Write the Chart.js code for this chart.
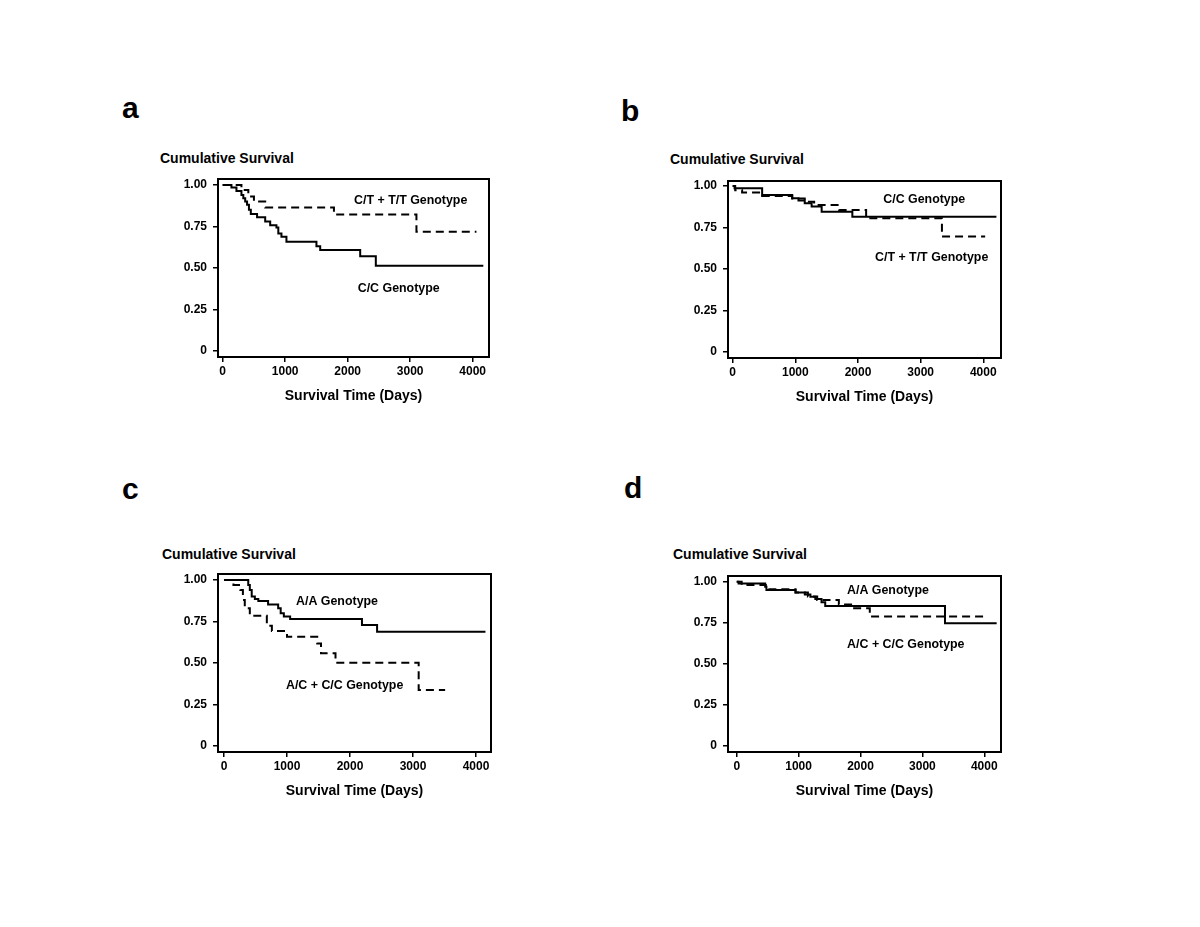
<!DOCTYPE html>
<html lang="en">
<head>
  <meta charset="UTF-8">
  <title>Cumulative Survival by Genotype</title>
  <script src="https://cdn.jsdelivr.net/npm/chart.js"></script>
  <style>
    * {
      margin: 0;
      padding: 0;
      box-sizing: border-box;
    }

    body {
      width: 1200px;
      height: 927px;
      background: #ffffff;
      position: relative;
      overflow: hidden;
      font-family: 'Liberation Sans', Arial, sans-serif;
      color: #000;
    }

    .panel-letter {
      position: absolute;
      font-size: 30px;
      font-weight: 700;
      line-height: 30px;
    }

    .y-title {
      position: absolute;
      font-size: 14px;
      font-weight: 700;
      line-height: 14px;
      white-space: nowrap;
    }

    .chart-box {
      position: absolute;
    }
  </style>
</head>
<body>
  <div class="panel-letter" style="left:122px; top:93px;">a</div>
  <div class="panel-letter" style="left:621px; top:96px;">b</div>
  <div class="panel-letter" style="left:122px; top:474px;">c</div>
  <div class="panel-letter" style="left:624px; top:473px;">d</div>

  <div class="y-title" style="left:160px; top:151px;">Cumulative Survival</div>
  <div class="y-title" style="left:670px; top:152px;">Cumulative Survival</div>
  <div class="y-title" style="left:162px; top:547px;">Cumulative Survival</div>
  <div class="y-title" style="left:673px; top:547px;">Cumulative Survival</div>

  <div class="chart-box" id="box-a"><canvas id="chart-a"></canvas></div>
  <div class="chart-box" id="box-b"><canvas id="chart-b"></canvas></div>
  <div class="chart-box" id="box-c"><canvas id="chart-c"></canvas></div>
  <div class="chart-box" id="box-d"><canvas id="chart-d"></canvas></div>

  <script>
    // shared axis ticks
    const xTicks = [0, 1000, 2000, 3000, 4000];
    const yTicks = [0, 0.25, 0.5, 0.75, 1];
    const yTickLabels = ['0', '0.25', '0.50', '0.75', '1.00'];

    // panel a: C/C (solid) vs C/T + T/T (dashed)
    const aCCDays = [0, 140, 220, 300, 330, 360, 390, 420, 450, 550, 680, 760, 860, 890, 940, 1020, 1500, 1560, 2200, 2450, 4170];
    const aCCSurv = [1, 0.984, 0.964, 0.94, 0.92, 0.90, 0.88, 0.85, 0.825, 0.805, 0.78, 0.757, 0.743, 0.707, 0.687, 0.657, 0.63, 0.607, 0.570, 0.512, 0.512];
    const aCTDays = [0, 300, 410, 500, 680, 1780, 3100, 4060];
    const aCTSurv = [1, 0.97, 0.93, 0.90, 0.864, 0.822, 0.717, 0.717];

    // panel b: C/C (solid) vs C/T + T/T (dashed)
    const bCCDays = [0, 30, 470, 950, 1050, 1150, 1260, 1420, 1910, 4210];
    const bCCSurv = [1, 0.986, 0.946, 0.926, 0.912, 0.896, 0.876, 0.845, 0.815, 0.815];
    const bCTDays = [0, 40, 150, 470, 950, 1150, 1300, 1700, 2130, 3340, 4030];
    const bCTSurv = [1, 0.975, 0.96, 0.94, 0.925, 0.905, 0.885, 0.855, 0.805, 0.695, 0.695];

    // panel c: A/A (solid) vs A/C + C/C (dashed)
    const cAADays = [0, 385, 410, 440, 490, 545, 700, 860, 900, 950, 1050, 2190, 2430, 4150];
    const cAASurv = [1, 0.97, 0.94, 0.90, 0.885, 0.873, 0.853, 0.83, 0.80, 0.78, 0.765, 0.729, 0.688, 0.688];
    const cACDays = [0, 150, 260, 300, 330, 410, 680, 760, 1000, 1480, 1540, 1770, 3090, 3510];
    const cACSurv = [1, 0.97, 0.94, 0.88, 0.83, 0.785, 0.725, 0.693, 0.658, 0.618, 0.558, 0.502, 0.337, 0.337];

    // panel d: A/A (solid) vs A/C + C/C (dashed)
    const dAADays = [0, 30, 460, 480, 950, 1100, 1190, 1270, 1370, 1430, 3365, 4200];
    const dAASurv = [1, 0.99, 0.97, 0.95, 0.935, 0.923, 0.909, 0.895, 0.875, 0.852, 0.747, 0.747];
    const dACDays = [0, 80, 470, 950, 1150, 1300, 1650, 1880, 2150, 4010];
    const dACSurv = [1, 0.98, 0.955, 0.935, 0.91, 0.889, 0.862, 0.838, 0.789, 0.789];

    const toPoints = (days, surv) => days.map((d, i) => ({ x: d, y: surv[i] }));

    // frame around the plot area
    const framePlugin = {
      id: 'frame',
      afterDatasetsDraw(chart) {
        const { ctx, chartArea: a } = chart;
        ctx.save();
        ctx.strokeStyle = '#000';
        ctx.lineWidth = 2;
        ctx.strokeRect(a.left, a.top, a.right - a.left, a.bottom - a.top);
        ctx.restore();
      }
    };

    // genotype captions placed in data coordinates
    const captionPlugin = {
      id: 'captions',
      afterDraw(chart, args, opts) {
        const { ctx, scales } = chart;
        ctx.save();
        ctx.fillStyle = '#000';
        ctx.font = 'bold 12.4px "Liberation Sans", Arial, sans-serif';
        ctx.textAlign = 'center';
        ctx.textBaseline = 'middle';
        (opts.items || []).forEach(it => {
          ctx.fillText(it.text, scales.x.getPixelForValue(it.x), scales.y.getPixelForValue(it.y));
        });
        ctx.restore();
      }
    };

    const Y_AXIS_W = 50, X_AXIS_H = 50, PAD_TOP = 16, PAD_RIGHT = 8;

    function drawPanel(id, box, xr, yr, solid, dashed, captions) {
      const [left, top, right, bottom] = box;
      const holder = document.getElementById('box-' + id);
      const w = Y_AXIS_W + (right - left) + PAD_RIGHT;
      const h = PAD_TOP + (bottom - top) + X_AXIS_H;
      holder.style.left = (left - Y_AXIS_W) + 'px';
      holder.style.top = (top - PAD_TOP) + 'px';
      const canvas = document.getElementById('chart-' + id);
      canvas.width = w;
      canvas.height = h;

      const tickGrid = {
        drawOnChartArea: false,
        drawTicks: true,
        tickLength: 5,
        color: '#000',
        lineWidth: 1.5
      };

      new Chart(canvas, {
        type: 'scatter',
        data: {
          datasets: [
            {
              data: solid,
              showLine: true,
              stepped: true,
              borderColor: '#000',
              borderWidth: 2,
              pointRadius: 0
            },
            {
              data: dashed,
              showLine: true,
              stepped: true,
              borderColor: '#000',
              borderWidth: 2,
              borderDash: [8, 5],
              pointRadius: 0
            }
          ]
        },
        options: {
          responsive: false,
          animation: false,
          devicePixelRatio: 1,
          layout: { padding: { top: PAD_TOP, right: PAD_RIGHT, left: 0, bottom: 0 } },
          plugins: {
            legend: { display: false },
            tooltip: { enabled: false },
            captions: { items: captions }
          },
          scales: {
            x: {
              type: 'linear',
              min: xr[0],
              max: xr[1],
              afterBuildTicks: s => { s.ticks = xTicks.map(v => ({ value: v })); },
              afterFit: s => { s.height = X_AXIS_H; },
              grid: tickGrid,
              border: { display: false },
              ticks: {
                color: '#000',
                padding: 2,
                maxRotation: 0,
                font: { size: 12, weight: 'bold' },
                callback: v => String(v)
              },
              title: {
                display: true,
                text: 'Survival Time (Days)',
                color: '#000',
                font: { size: 14, weight: 'bold' },
                padding: { top: 0, bottom: 2 }
              }
            },
            y: {
              type: 'linear',
              min: yr[0],
              max: yr[1],
              afterBuildTicks: s => { s.ticks = yTicks.map(v => ({ value: v })); },
              afterFit: s => { s.width = Y_AXIS_W; },
              grid: tickGrid,
              border: { display: false },
              ticks: {
                color: '#000',
                padding: 6,
                font: { size: 12, weight: 'bold' },
                callback: v => yTickLabels[yTicks.indexOf(v)]
              }
            }
          }
        },
        plugins: [framePlugin, captionPlugin]
      });
    }

    Chart.defaults.font.family = "'Liberation Sans', Arial, sans-serif";

    drawPanel('a', [218, 179, 489, 357], [-75, 4261], [-0.038, 1.036],
      toPoints(aCCDays, aCCSurv), toPoints(aCTDays, aCTSurv),
      [{ text: 'C/T + T/T Genotype', x: 3008, y: 0.908 }, { text: 'C/C Genotype', x: 2816, y: 0.376 }]);

    drawPanel('b', [728, 181, 1001, 358], [-75, 4283], [-0.036, 1.030],
      toPoints(bCCDays, bCCSurv), toPoints(bCTDays, bCTSurv),
      [{ text: 'C/C Genotype', x: 3058, y: 0.916 }, { text: 'C/T + T/T Genotype', x: 3176, y: 0.570 }]);

    drawPanel('c', [218, 574, 491, 752], [-95, 4238], [-0.036, 1.036],
      toPoints(cAADays, cAASurv), toPoints(cACDays, cACSurv),
      [{ text: 'A/A Genotype', x: 1794, y: 0.869 }, { text: 'A/C + C/C Genotype', x: 1915, y: 0.363 }]);

    drawPanel('d', [728, 576, 1001, 752], [-141, 4270], [-0.037, 1.035],
      toPoints(dAADays, dAASurv), toPoints(dACDays, dACSurv),
      [{ text: 'A/A Genotype', x: 2444, y: 0.949 }, { text: 'A/C + C/C Genotype', x: 2732, y: 0.619 }]);
  </script>
</body>
</html>
